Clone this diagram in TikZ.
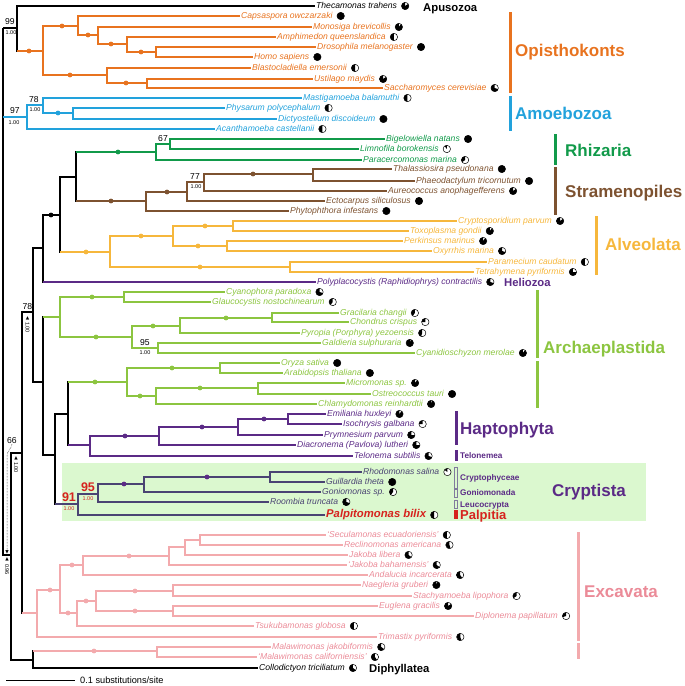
\documentclass[tikz,border=0pt]{standalone}
\usepackage{fontspec}
\setmainfont{Liberation Sans}
\newfontfamily\symfont{DejaVu Sans}
\usetikzlibrary{calc}
\definecolor{opisOrange}{HTML}{E8731F}
\definecolor{amoeBlue}{HTML}{22A2DC}
\definecolor{rhizGreen}{HTML}{119A4A}
\definecolor{straBrown}{HTML}{7D5230}
\definecolor{alveYellow}{HTML}{F6B73C}
\definecolor{hacPurple}{HTML}{5B2A86}
\definecolor{crypDark}{HTML}{4A4373}
\definecolor{archGreen}{HTML}{8CC540}
\definecolor{excaPink}{HTML}{F3AAAD}
\definecolor{excaText}{HTML}{EB8B98}
\definecolor{palpRed}{HTML}{D6231E}
\definecolor{crypBg}{HTML}{DBF8CF}

\begin{document}
\begin{tikzpicture}[x=1pt, y=-1pt,
    tree/.style={line width=1.1pt},
    leaf/.style={anchor=west, inner sep=1pt, text height=6.2pt, text depth=1.8pt,
      font=\fontsize{8.6}{10}\selectfont\itshape},
    clade/.style={anchor=base west, inner sep=0pt, font=\fontsize{17}{20}\selectfont\bfseries},
    minor/.style={anchor=base west, inner sep=0pt, font=\fontsize{11.3}{13}\selectfont\bfseries},
    sub/.style={anchor=base west, inner sep=0pt, text=hacPurple, font=\fontsize{8.2}{10}\selectfont\bfseries},
    bs/.style={inner sep=0pt, font=\fontsize{8.6}{10}\selectfont},
    pp/.style={inner sep=0pt, font=\fontsize{5.5}{6}\selectfont},
    ppv/.style={pp, rotate=-90},
    redbs/.style={inner sep=0pt, text=palpRed, font=\fontsize{12.5}{14}\selectfont\bfseries},
    tri/.style={inner sep=0pt, font=\symfont\fontsize{4.5}{5}\selectfont},
    bar/.style={line width=3pt},
    pie/.pic={
      \fill[white] (0,0) circle (3.7pt);
      \fill (0,0) -- (90:3.7pt) arc[start angle=90, delta angle=360*#1, radius=3.7pt] -- cycle;
      \draw[line width=0.5pt] (0,0) circle (3.7pt);
    }]
  \useasboundingbox (0,0) rectangle (685,686);
  % Cryptista background
  \fill[crypBg] (62,463) rectangle (646,521);

  % internal nodes
  \foreach \n/\x/\y in {root/3/28, nObaz/17/28, nOpis/43/51, nHolo/78/26, nH2/98/35, nH3/127/44,
      nH4/156/52, nFung/107/75, nF2/147/83, nAmoe/27/117, nA2/43/105, nA3/73/113,
      nRest/11/555, nR2/22/453, nR3/33/312, nSARH/43/248, nSAR/60/215, nRS/76/177,
      nRhiz/156/152, nBiLi/170/144, nStra/146/201, nS2/187/192, nS3/204/182, nS4/313/174,
      nAlve/110/252, nAl2/173/236, nAl3/233/226, nAl4/227/246, nAl5/290/267,
      nAH/43/382, nArRh/60/317, nGlau/124/297, nRhod/132/337, nRh2/180/326, nRh3/272/318,
      nCyad/158/348, nAH2/55/455, nGH/68/414, nGree/127/382, nG2/220/368, nG3/156/396,
      nG4/258/388, nHT/90/445, nHapt/159/436, nHa2/238/427, nHa3/288/419,
      nCrys/78/504, nCr2/98/494, nCr3/144/484, nCr4/270/477,
      nExca/37/613, nEx2/60/590, nJak/83/565, nJ2/169/556, nJ3/185/547, nJ4/200/540,
      nDisc/77/613, nD2/96/601, nHet/173/591, nEug/173/611, nMalCol/33/660, nMala/157/651}
    \coordinate (\n) at (\x,\y);

  % taxa
  \node[leaf] (tThec) at (315,6) {Thecamonas trahens};
  \foreach \n/\x/\y/\txt in {Caps/240/16/Capsaspora owczarzaki, Mono/312/27/Monosiga brevicollis,
      Amph/276/37/Amphimedon queenslandica, Dros/316/47/Drosophila melanogaster,
      Homo/253/57/Homo sapiens, Blas/251/68/Blastocladiella emersonii,
      Usti/313/79/Ustilago maydis, Sacc/383/88/Saccharomyces cerevisiae}
    \node[leaf, text=opisOrange] (t\n) at (\x,\y) {\txt};
  \foreach \n/\x/\y/\txt in {Mast/302/98/Mastigamoeba balamuthi, Phys/225/108/Physarum polycephalum,
      Dict/277/119/Dictyostelium discoideum, Acan/215/129/Acanthamoeba castellanii}
    \node[leaf, text=amoeBlue] (t\n) at (\x,\y) {\txt};
  \foreach \n/\x/\y/\txt in {Bige/385/139/Bigelowiella natans, Limn/359/149/Limnofila borokensis,
      Para/362/160/Paracercomonas marina}
    \node[leaf, text=rhizGreen] (t\n) at (\x,\y) {\txt};
  \foreach \n/\x/\y/\txt in {Thal/392/169/Thalassiosira pseudonana, Phae/415/181/Phaeodactylum tricornutum,
      Aure/387/191/Aureococcus anophagefferens, Ecto/325/201/Ectocarpus siliculosus,
      Phyt/289/211/Phytophthora infestans}
    \node[leaf, text=straBrown] (t\n) at (\x,\y) {\txt};
  \foreach \n/\x/\y/\txt in {Cryp/457/221/Cryptosporidium parvum, Toxo/409/231/Toxoplasma gondii,
      Perk/403/241/Perkinsus marinus, Oxyr/432/251/Oxyrrhis marina,
      Pmec/487/262/Paramecium caudatum, Tetr/474/272/Tetrahymena pyriformis}
    \node[leaf, text=alveYellow] (t\n) at (\x,\y) {\txt};
  \node[leaf, text=hacPurple] (tPoly) at (316,282) {Polyplacocystis (Raphidiophrys) contractilis};
  \foreach \n/\x/\y/\txt in {Cyan/225/292/Cyanophora paradoxa, Glau/211/302/Glaucocystis nostochinearum,
      Grac/339/313/Gracilaria changii, Chon/349/322/Chondrus crispus,
      Pyro/300/333/Pyropia (Porphyra) yezoensis, Gald/321/343/Galdieria sulphuraria,
      Cyad/415/353/Cyanidioschyzon merolae, Oryz/280/363/Oryza sativa,
      Arab/283/373/Arabidopsis thaliana, Micr/345/383/Micromonas sp.,
      Ostr/371/394/Ostreococcus tauri, Chla/317/404/Chlamydomonas reinhardtii}
    \node[leaf, text=archGreen] (t\n) at (\x,\y) {\txt};
  \foreach \n/\x/\y/\txt in {Emil/326/414/Emiliania huxleyi, Isoc/342/424/Isochrysis galbana,
      Prym/323/435/Prymnesium parvum, Diac/296/445/Diacronema (Pavlova) lutheri,
      Telo/353/456/Telonema subtilis}
    \node[leaf, text=hacPurple] (t\n) at (\x,\y) {\txt};
  \foreach \n/\x/\y/\txt in {Rhod/362/472/Rhodomonas salina, Guil/325/482/Guillardia theta,
      Goni/321/492/Goniomonas sp., Room/269/502/Roombia truncata}
    \node[leaf, text=crypDark] (t\n) at (\x,\y) {\txt};
  \node[leaf, text=palpRed, text height=8.1pt, text depth=2.4pt,
        font=\fontsize{11.3}{13}\selectfont\bfseries\itshape] (tPalp) at (325,515) {Palpitomonas bilix};
  \foreach \n/\x/\y/\txt in {Secu/326/535/`Seculamonas ecuadoriensis', Recl/343/545/Reclinomonas americana,
      Jlib/348/555/Jakoba libera, Jbah/347/565/`Jakoba bahamensis', Anda/368/575/Andalucia incarcerata,
      Naeg/361/585/Naegleria gruberi, Stac/412/596/Stachyamoeba lipophora,
      Eugl/378/606/Euglena gracilis, Dipl/474/616/Diplonema papillatum,
      Tsuk/254/626/Tsukubamonas globosa, Trim/377/637/Trimastix pyriformis,
      Mjak/271/647/Malawimonas jakobiformis, Mcal/257/657/`Malawimonas californiensis'}
    \node[leaf, text=excaText] (t\n) at (\x,\y) {\txt};
  \node[leaf] (tColl) at (258,668) {Collodictyon triciliatum};

  % backbone
  \foreach \p/\c in {root/nObaz, nObaz/tThec.west, root/nRest, nRest/nR2, nRest/nMalCol, nR2/nR3,
      nR3/nSARH, nR3/nAH, nSARH/nSAR, nSAR/nRS, nAH/nAH2, nAH2/nGH, nMalCol/tColl.west}
    \draw[tree] (\p) |- (\c);
  % clade stems: black node, coloured branch
  \foreach \p/\c/\col in {root/nAmoe/amoeBlue, nObaz/nOpis/opisOrange, nRS/nRhiz/rhizGreen,
      nRS/nStra/straBrown, nSAR/nAlve/alveYellow, nSARH/tPoly.west/hacPurple, nAH/nArRh/archGreen,
      nGH/nGree/archGreen, nGH/nHT/hacPurple, nAH2/nCrys/crypDark, nR2/nExca/excaPink,
      nMalCol/nMala/excaPink}
    {\draw[tree] (\p) |- (\c); \draw[tree, \col] (\p |- \c) -- (\c);}
  % within clades
  \foreach \p/\c in {nOpis/nHolo, nOpis/nFung, nHolo/tCaps.west, nHolo/nH2, nH2/tMono.west, nH2/nH3,
      nH3/tAmph.west, nH3/nH4, nH4/tDros.west, nH4/tHomo.west, nFung/tBlas.west, nFung/nF2,
      nF2/tUsti.west, nF2/tSacc.west}
    \draw[tree, opisOrange] (\p) |- (\c);
  \foreach \p/\c in {nAmoe/nA2, nAmoe/tAcan.west, nA2/tMast.west, nA2/nA3, nA3/tPhys.west, nA3/tDict.west}
    \draw[tree, amoeBlue] (\p) |- (\c);
  \foreach \p/\c in {nRhiz/nBiLi, nRhiz/tPara.west, nBiLi/tBige.west, nBiLi/tLimn.west}
    \draw[tree, rhizGreen] (\p) |- (\c);
  \foreach \p/\c in {nStra/nS2, nStra/tPhyt.west, nS2/nS3, nS2/tEcto.west, nS3/nS4, nS3/tAure.west,
      nS4/tThal.west, nS4/tPhae.west}
    \draw[tree, straBrown] (\p) |- (\c);
  \foreach \p/\c in {nAlve/nAl2, nAlve/nAl5, nAl2/nAl3, nAl2/nAl4, nAl3/tCryp.west, nAl3/tToxo.west,
      nAl4/tPerk.west, nAl4/tOxyr.west, nAl5/tPmec.west, nAl5/tTetr.west}
    \draw[tree, alveYellow] (\p) |- (\c);
  \foreach \p/\c in {nArRh/nGlau, nArRh/nRhod, nGlau/tCyan.west, nGlau/tGlau.west, nRhod/nRh2,
      nRhod/nCyad, nRh2/nRh3, nRh2/tPyro.west, nRh3/tGrac.west, nRh3/tChon.west, nCyad/tGald.west,
      nCyad/tCyad.west, nGree/nG2, nGree/nG3, nG2/tOryz.west, nG2/tArab.west, nG3/nG4,
      nG3/tChla.west, nG4/tMicr.west, nG4/tOstr.west}
    \draw[tree, archGreen] (\p) |- (\c);
  \foreach \p/\c in {nHT/nHapt, nHT/tTelo.west, nHapt/nHa2, nHapt/tDiac.west, nHa2/nHa3,
      nHa2/tPrym.west, nHa3/tEmil.west, nHa3/tIsoc.west}
    \draw[tree, hacPurple] (\p) |- (\c);
  \foreach \p/\c in {nCrys/nCr2, nCrys/tPalp.west, nCr2/nCr3, nCr2/tRoom.west, nCr3/nCr4,
      nCr3/tGoni.west, nCr4/tRhod.west, nCr4/tGuil.west}
    \draw[tree, crypDark] (\p) |- (\c);
  \foreach \p/\c in {nExca/nEx2, nExca/tTrim.west, nEx2/nJak, nEx2/nDisc, nJak/nJ2, nJak/tAnda.west,
      nJ2/nJ3, nJ2/tJbah.west, nJ3/nJ4, nJ3/tJlib.west, nJ4/tSecu.west, nJ4/tRecl.west, nDisc/nD2,
      nDisc/tTsuk.west, nD2/nHet, nD2/nEug, nHet/tNaeg.west, nHet/tStac.west, nEug/tEugl.west,
      nEug/tDipl.west, nMala/tMjak.west, nMala/tMcal.west}
    \draw[tree, excaPink] (\p) |- (\c);

  % fully supported branches
  \foreach \x/\y/\col in {29/51/opisOrange, 62/26/opisOrange, 88/35/opisOrange, 111/44/opisOrange,
      141/52/opisOrange, 70/75/opisOrange, 126/83/opisOrange, 58/113/amoeBlue, 118/152/rhizGreen,
      111/201/straBrown, 167/192/straBrown, 253/174/straBrown, 51/215/black, 86/252/alveYellow,
      141/236/alveYellow, 205/226/alveYellow, 198/246/alveYellow, 200/267/alveYellow,
      92/297/archGreen, 96/337/archGreen, 153/326/archGreen, 226/318/archGreen, 95/382/archGreen,
      172/368/archGreen, 140/396/archGreen, 200/388/archGreen, 125/436/hacPurple, 202/427/hacPurple,
      264/419/hacPurple, 124/484/hacPurple, 207/477/hacPurple, 50/590/excaPink, 72/565/excaPink,
      129/556/excaPink, 68/613/excaPink, 86/601/excaPink, 135/591/excaPink, 135/611/excaPink,
      94/651/excaPink}
    \fill[\col] (\x,\y) circle (2.4pt);

  % data coverage pies
  \foreach \n/\f in {Thec/0.85, Caps/1, Mono/0.9, Amph/0.5, Dros/1, Homo/1, Blas/0.5, Usti/0.85,
      Sacc/0.7, Mast/0.5, Phys/0.5, Dict/1, Acan/0.5, Bige/1, Limn/0.1, Para/0.35, Thal/1, Phae/1,
      Aure/0.85, Ecto/1, Phyt/1, Cryp/0.85, Toxo/0.9, Perk/0.9, Oxyr/0.7, Pmec/0.5, Tetr/0.75,
      Poly/0.7, Cyan/0.7, Glau/0.4, Grac/0.4, Chon/0.25, Pyro/0.45, Gald/0.95, Cyad/0.9, Oryz/1,
      Arab/1, Micr/0.9, Ostr/1, Chla/0.95, Emil/0.9, Isoc/0.25, Prym/0.75, Diac/0.75, Telo/0.7,
      Rhod/0.15, Guil/1, Goni/0.4, Room/0.7, Palp/0.5, Secu/0.5, Recl/0.55, Jlib/0.65, Jbah/0.65,
      Anda/0.6, Naeg/0.95, Stac/0.35, Eugl/0.85, Dipl/0.3, Tsuk/0.5, Trim/0.55, Mjak/0.65,
      Mcal/0.6, Coll/0.65}
    \pic at ($(t\n.east)+(7pt,0)$) {pie=\f};

  % support values
  \node[bs] (bsObaz) at (10,22) {99};
  \node[pp] (ppObaz) at (11,33) {1.00};
  \node[bs] (bsAmoe) at (15,111) {97};
  \node[pp] (ppAmoe) at (14,122.5) {1.00};
  \node[bs] (bsA2) at (34,99.5) {78};
  \node[pp] (ppA2) at (35,110) {1.00};
  \node[bs] (bsBiLi) at (163,138.5) {67};
  \node[bs] (bsS3) at (195,176.5) {77};
  \node[pp] (ppS3) at (196,187) {1.00};
  \node[bs] (bsCyad) at (145,342.5) {95};
  \node[pp] (ppCyad) at (145,353) {1.00};
  \node[redbs] (bsCrys) at (69,497) {91};
  \node[pp, text=palpRed] (ppCrys) at (69,508.5) {1.00};
  \node[redbs] (bsCr2) at (88,487) {95};
  \node[pp, text=palpRed] (ppCr2) at (88,498.5) {1.00};
  \node[bs] (bsR3) at (27.5,307) {78};
  \node[tri] (triR3) at (27.5,318) {▲};
  \node[ppv] (ppR3) at (27.5,327.5) {1.00};
  \node[tri] (triR2) at (16,458) {▲};
  \node[ppv] (ppR2) at (16,467.5) {1.00};
  \node[bs] (bsRest) at (12,441) {66};
  \node[tri] (triRest) at (7,552) {▼};
  \draw[densely dotted, line width=0.5pt] (bsRest.south) to[out=-100, in=90] (7,456) -- (triRest.north);
  \node[tri] (triRest2) at (7,559.5) {▲};
  \node[ppv] (ppRest) at (7,569.5) {0.96};

  % clade labels
  \node[minor] (lApus) at (423,11) {Apusozoa};
  \draw[bar, opisOrange] (510,12) -- (510,93);
  \node[clade, text=opisOrange] (lOpis) at (515,56) {Opisthokonts};
  \draw[bar, amoeBlue] (510,96) -- (510,131);
  \node[clade, text=amoeBlue] (lAmoe) at (515,119) {Amoebozoa};
  \draw[bar, rhizGreen] (555,134) -- (555,165);
  \node[clade, text=rhizGreen] (lRhiz) at (565,156) {Rhizaria};
  \draw[bar, straBrown] (555,167) -- (555,215);
  \node[clade, text=straBrown] (lStra) at (565,197) {Stramenopiles};
  \draw[bar, alveYellow] (596,216) -- (596,275);
  \node[clade, text=alveYellow] (lAlve) at (605,250) {Alveolata};
  \node[minor, text=hacPurple] (lHeli) at (504,286) {Heliozoa};
  \draw[bar, archGreen] (537,290) -- (537,358);
  \draw[bar, archGreen] (537,361) -- (537,408);
  \node[clade, text=archGreen] (lArch) at (543,353) {Archaeplastida};
  \draw[bar, hacPurple] (456,411) -- (456,445);
  \node[clade, text=hacPurple] (lHapt) at (460,434) {Haptophyta};
  \draw[bar, hacPurple] (456,450) -- (456,461);
  \node[sub] (lTelo) at (460,458) {Telonemea};
  \draw[line width=0.6pt, crypDark!70] (454.5,467) rectangle (457.5,488);
  \node[sub] (lCrph) at (460,480) {Cryptophyceae};
  \draw[line width=0.6pt, crypDark!70] (454.5,489.5) rectangle (457.5,497.5);
  \node[sub] (lGoni) at (460,495) {Goniomonada};
  \draw[line width=0.6pt, crypDark!70] (454.5,500) rectangle (457.5,508);
  \node[sub] (lLeuc) at (460,507) {Leucocrypta};
  \fill[palpRed] (454,510) rectangle (458,519);
  \node[anchor=base west, inner sep=0pt, text=palpRed, font=\fontsize{13}{15}\selectfont\bfseries] (lPalp) at (460,519.5) {Palpitia};
  \node[clade, text=hacPurple] (lCrys) at (552,496) {Cryptista};
  \draw[bar, excaPink] (578,532) -- (578,641);
  \draw[bar, excaPink] (578,643) -- (578,659);
  \node[clade, text=excaText] (lExca) at (584,597) {Excavata};
  \node[minor] (lDiph) at (369,672) {Diphyllatea};

  % scale
  \coordinate (sc0) at (6,680);
  \coordinate (sc1) at (75,680);
  \draw[line width=1pt] (sc0) -- (sc1);
  \node[anchor=west, inner sep=0pt, font=\fontsize{9.2}{11}\selectfont] (lScale) at (80,680) {0.1 substitutions/site};
\end{tikzpicture}
\end{document}
